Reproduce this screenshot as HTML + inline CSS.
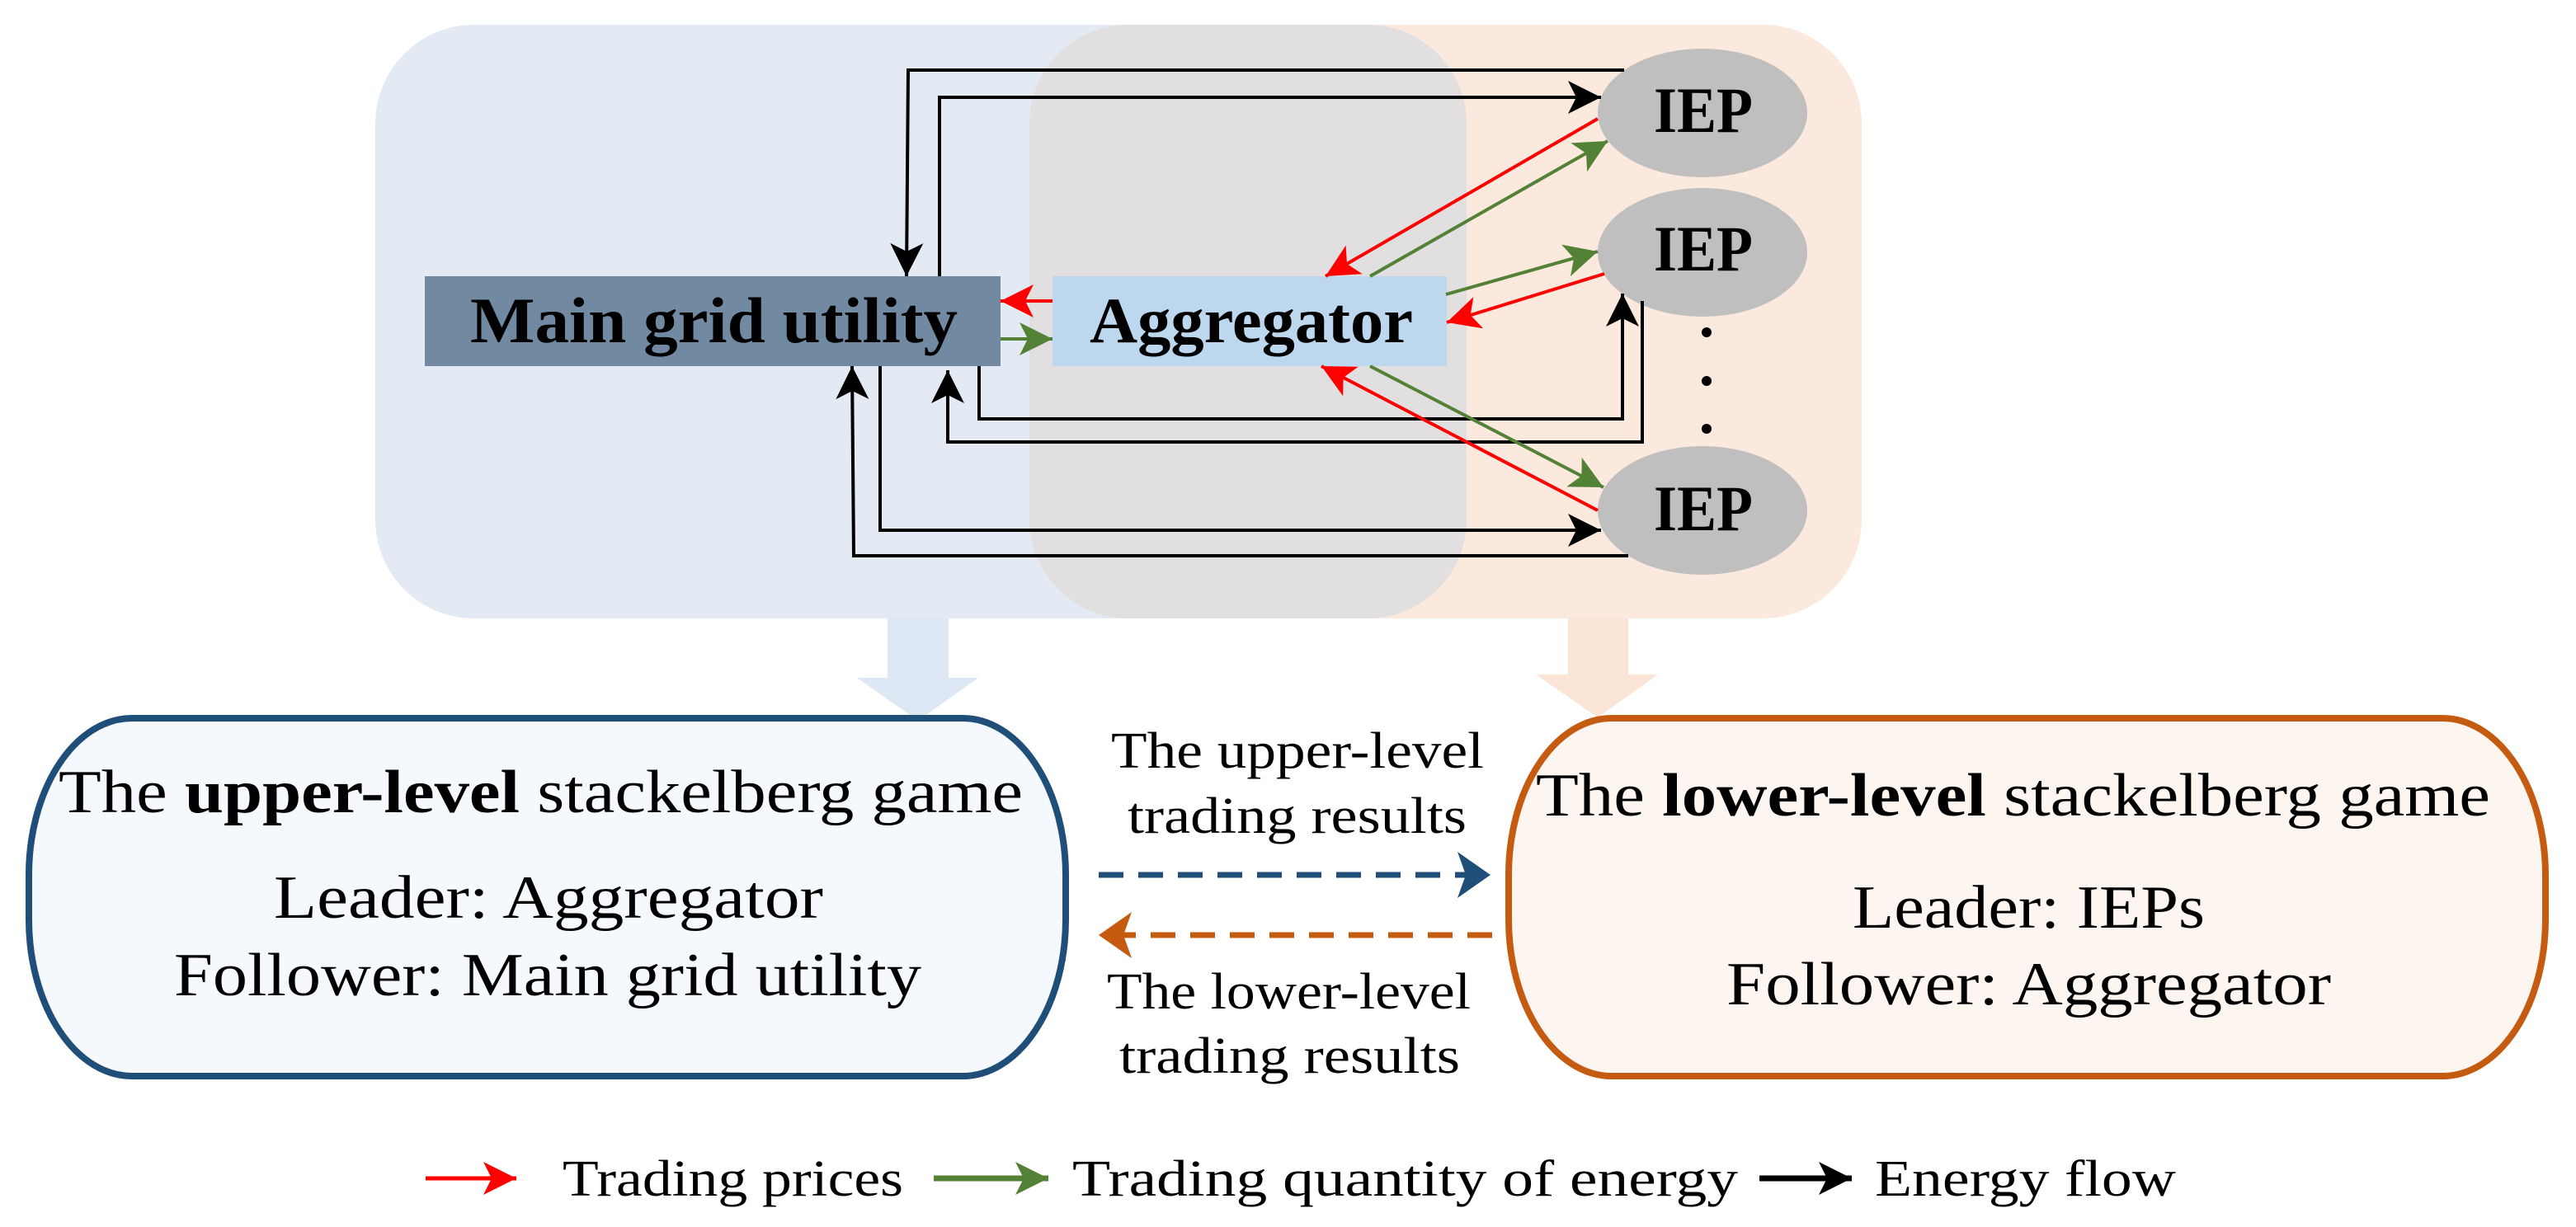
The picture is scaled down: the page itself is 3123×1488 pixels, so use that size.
<!DOCTYPE html>
<html><head><meta charset="utf-8"><style>html,body{margin:0;padding:0;background:#fff}svg{display:block}</style></head>
<body>
<svg width="3123" height="1488" viewBox="0 0 3123 1488" xmlns="http://www.w3.org/2000/svg" font-family="'Liberation Serif', serif">
<defs>
<marker id="mk" markerUnits="userSpaceOnUse" markerWidth="44" markerHeight="44" refX="40" refY="20" orient="auto"><path d="M0,0 L40,20 L0,40 L10,20 z" fill="#000"/></marker>
<marker id="mr" markerUnits="userSpaceOnUse" markerWidth="44" markerHeight="44" refX="40" refY="20" orient="auto"><path d="M0,0 L40,20 L0,40 L10,20 z" fill="#ff0000"/></marker>
<marker id="mg" markerUnits="userSpaceOnUse" markerWidth="44" markerHeight="44" refX="40" refY="20" orient="auto"><path d="M0,0 L40,20 L0,40 L10,20 z" fill="#538135"/></marker>
<marker id="mb" markerUnits="userSpaceOnUse" markerWidth="50" markerHeight="60" refX="40" refY="28" orient="auto"><path d="M0,0 L40,28 L0,56 L10,28 z" fill="#1f4e79"/></marker>
<marker id="mo" markerUnits="userSpaceOnUse" markerWidth="50" markerHeight="60" refX="40" refY="28" orient="auto"><path d="M0,0 L40,28 L0,56 L10,28 z" fill="#c55a11"/></marker>
</defs>

<!-- backgrounds -->
<rect x="455" y="30" width="1323" height="720" rx="120" ry="120" fill="#e4eaf4"/>
<rect x="1248" y="30" width="1009" height="720" rx="120" ry="120" fill="#fbe9de"/>
<path d="M1368,30 H1658 A120,120 0 0 1 1778,150 V630 A120,120 0 0 1 1658,750 H1368 A120,120 0 0 1 1248,630 V150 A120,120 0 0 1 1368,30 z" fill="#e1dfe0"/>

<!-- big down arrows -->
<path d="M1076,750 H1150 V822 H1186 L1113,874 L1039,822 H1076 z" fill="#dde8f4"/>
<path d="M1901,750 H1974 V818 H2010 L1937,870 L1862,818 H1901 z" fill="#fbe5d6"/>

<!-- boxes -->
<rect x="515" y="335" width="698" height="109" fill="#718aa2"/>
<text x="570" y="415" font-size="78" font-weight="bold" textLength="591" lengthAdjust="spacingAndGlyphs">Main grid utility</text>
<rect x="1276" y="335" width="478" height="109" fill="#bdd7ee"/>
<text x="1321" y="415" font-size="78" font-weight="bold" textLength="392" lengthAdjust="spacingAndGlyphs">Aggregator</text>

<ellipse cx="2064" cy="137" rx="127" ry="78" fill="#bfbfbf"/>
<ellipse cx="2064" cy="306" rx="127" ry="78" fill="#bfbfbf"/>
<ellipse cx="2064" cy="619" rx="127" ry="78" fill="#bfbfbf"/>
<text x="2005" y="160" font-size="78" font-weight="bold" textLength="120" lengthAdjust="spacingAndGlyphs">IEP</text>
<text x="2005" y="328" font-size="78" font-weight="bold" textLength="120" lengthAdjust="spacingAndGlyphs">IEP</text>
<text x="2005" y="643" font-size="78" font-weight="bold" textLength="120" lengthAdjust="spacingAndGlyphs">IEP</text>
<circle cx="2069" cy="403" r="6"/><circle cx="2069" cy="462" r="6"/><circle cx="2069" cy="520" r="6"/>

<!-- black energy lines -->
<g fill="none" stroke="#000" stroke-width="4">
<path d="M1969,85 H1101 L1099,335" marker-end="url(#mk)"/>
<path d="M1139,335 V118 H1941" marker-end="url(#mk)"/>
<path d="M1187,444 V508 H1967 V356" marker-end="url(#mk)"/>
<path d="M1991,365 V536 H1149 V449" marker-end="url(#mk)"/>
<path d="M1067,444 V643 H1941" marker-end="url(#mk)"/>
<path d="M1974,674 H1035 L1033,444" marker-end="url(#mk)"/>
</g>
<!-- red / green -->
<g fill="none" stroke-width="4">
<line x1="1276" y1="365" x2="1213" y2="365" stroke="#ff0000" marker-end="url(#mr)"/>
<line x1="1213" y1="411" x2="1276" y2="411" stroke="#538135" marker-end="url(#mg)"/>
<line x1="1937" y1="144" x2="1607" y2="335" stroke="#ff0000" marker-end="url(#mr)"/>
<line x1="1661" y1="335" x2="1949" y2="171" stroke="#538135" marker-end="url(#mg)"/>
<line x1="1753" y1="357" x2="1937" y2="305" stroke="#538135" marker-end="url(#mg)"/>
<line x1="1945" y1="332" x2="1754" y2="391" stroke="#ff0000" marker-end="url(#mr)"/>
<line x1="1661" y1="444" x2="1944" y2="591" stroke="#538135" marker-end="url(#mg)"/>
<line x1="1937" y1="619" x2="1602" y2="444" stroke="#ff0000" marker-end="url(#mr)"/>
</g>

<!-- lower boxes -->
<rect x="35" y="871" width="1257" height="434" rx="125" ry="190" fill="#f5f9fd" stroke="#1f4e79" stroke-width="8"/>
<rect x="1829" y="871" width="1257" height="434" rx="125" ry="190" fill="#fdf5f0" stroke="#c55a11" stroke-width="8"/>

<text x="71" y="985" font-size="74" textLength="1169" lengthAdjust="spacingAndGlyphs">The <tspan font-weight="bold">upper-level</tspan> stackelberg game</text>
<text x="332" y="1113" font-size="74" textLength="666" lengthAdjust="spacingAndGlyphs">Leader: Aggregator</text>
<text x="211" y="1207" font-size="74" textLength="906" lengthAdjust="spacingAndGlyphs">Follower: Main grid utility</text>

<text x="1862" y="989" font-size="74" textLength="1157" lengthAdjust="spacingAndGlyphs">The <tspan font-weight="bold">lower-level</tspan> stackelberg game</text>
<text x="2246" y="1125" font-size="74" textLength="427" lengthAdjust="spacingAndGlyphs">Leader: IEPs</text>
<text x="2093" y="1218" font-size="74" textLength="733" lengthAdjust="spacingAndGlyphs">Follower: Aggregator</text>

<!-- middle -->
<text x="1347" y="931" font-size="62" textLength="452" lengthAdjust="spacingAndGlyphs">The upper-level</text>
<text x="1367" y="1010" font-size="62" textLength="411" lengthAdjust="spacingAndGlyphs">trading results</text>
<line x1="1332" y1="1061" x2="1807" y2="1061" stroke="#1f4e79" stroke-width="7" stroke-dasharray="30,18" marker-end="url(#mb)"/>
<line x1="1809" y1="1134" x2="1332" y2="1134" stroke="#c55a11" stroke-width="7" stroke-dasharray="30,18" marker-end="url(#mo)"/>
<text x="1342" y="1223" font-size="62" textLength="441" lengthAdjust="spacingAndGlyphs">The lower-level</text>
<text x="1357" y="1301" font-size="62" textLength="413" lengthAdjust="spacingAndGlyphs">trading results</text>

<!-- legend -->
<line x1="516" y1="1429" x2="626" y2="1429" stroke="#ff0000" stroke-width="5" marker-end="url(#mr)"/>
<text x="682" y="1450" font-size="62" textLength="413" lengthAdjust="spacingAndGlyphs">Trading prices</text>
<line x1="1132" y1="1429" x2="1271" y2="1429" stroke="#538135" stroke-width="7" marker-end="url(#mg)"/>
<text x="1300" y="1450" font-size="62" textLength="807" lengthAdjust="spacingAndGlyphs">Trading quantity of energy</text>
<line x1="2133" y1="1429" x2="2245" y2="1429" stroke="#000" stroke-width="7" marker-end="url(#mk)"/>
<text x="2273" y="1450" font-size="62" textLength="365" lengthAdjust="spacingAndGlyphs">Energy flow</text>
</svg>
</body></html>
